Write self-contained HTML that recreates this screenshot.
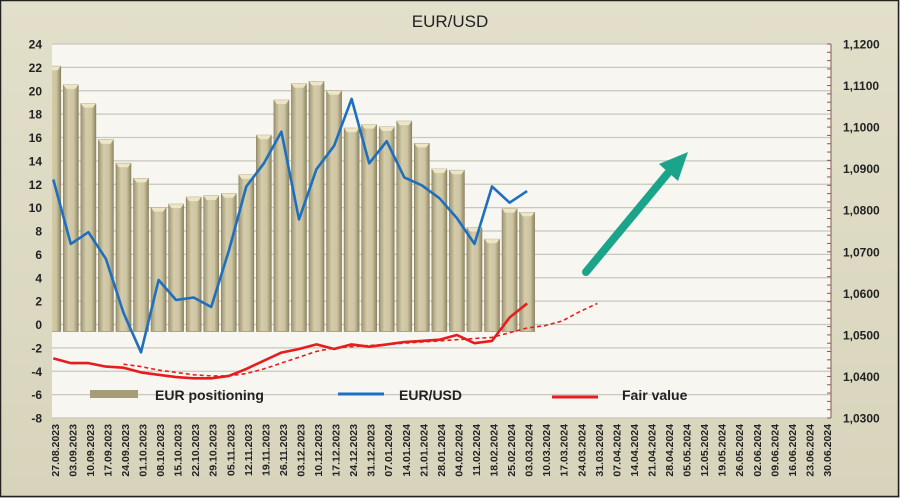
<!DOCTYPE html>
<html><head><meta charset="utf-8"><style>
html,body{margin:0;padding:0;background:#dcd9c3;}
svg{display:block;font-family:"Liberation Sans","DejaVu Sans",sans-serif;}
</style></head><body>
<svg id="chart" width="900" height="498" viewBox="0 0 900 498">
<defs>
<linearGradient id="bg" x1="0" y1="0" x2="0" y2="1"><stop offset="0" stop-color="#e2dfca"/><stop offset="1" stop-color="#d8d4bc"/></linearGradient>
<linearGradient id="barg" x1="0" y1="0" x2="1" y2="0"><stop offset="0" stop-color="#9f9672"/><stop offset="0.35" stop-color="#d4ccaa"/><stop offset="0.7" stop-color="#cdc5a1"/><stop offset="1" stop-color="#8f8763"/></linearGradient>
<clipPath id="plotclip"><rect x="52" y="40" width="779" height="380"/></clipPath>
</defs>
<rect x="0" y="0" width="900" height="498" fill="url(#bg)"/>
<rect x="0.5" y="0.5" width="898" height="496" fill="none" stroke="#222" stroke-width="1.5"/>
<text x="450" y="27" text-anchor="middle" font-size="17" fill="#222">EUR/USD</text>
<rect x="52" y="44" width="779" height="374" fill="#f7f6f1"/>
<g id="grid"></g><g id="bars" clip-path="url(#plotclip)"></g><g id="lines"></g><g id="axes"></g>
<g>
<rect x="90" y="390" width="48" height="8" fill="#a69d78"/>
<text x="155" y="400" font-size="14" font-weight="bold" fill="#222">EUR positioning</text>
<line x1="338" y1="394" x2="384" y2="394" stroke="#1f6fbf" stroke-width="3"/>
<text x="399" y="400" font-size="14" font-weight="bold" fill="#222">EUR/USD</text>
<line x1="552" y1="397" x2="598" y2="397" stroke="#e41e1e" stroke-width="3"/>
<text x="622" y="400" font-size="14" font-weight="bold" fill="#222">Fair value</text>
</g>
<g>
<line x1="586" y1="272" x2="668" y2="173" stroke="#1aa58a" stroke-width="8" stroke-linecap="round"/>
<polygon points="688,152 659,164 678,181" fill="#1aa58a"/>
</g>
</svg>
<script>
const categories=["27.08.2023","03.09.2023","10.09.2023","17.09.2023","24.09.2023","01.10.2023","08.10.2023","15.10.2023","22.10.2023","29.10.2023","05.11.2023","12.11.2023","19.11.2023","26.11.2023","03.12.2023","10.12.2023","17.12.2023","24.12.2023","31.12.2023","07.01.2024","14.01.2024","21.01.2024","28.01.2024","04.02.2024","11.02.2024","18.02.2024","25.02.2024","03.03.2024","10.03.2024","17.03.2024","24.03.2024","31.03.2024","07.04.2024","14.04.2024","21.04.2024","28.04.2024","05.05.2024","12.05.2024","19.05.2024","26.05.2024","02.06.2024","09.06.2024","16.06.2024","23.06.2024","30.06.2024"];
const positioning=[22.1,20.5,18.9,15.8,13.8,12.5,10.0,10.3,10.9,11.0,11.2,12.8,16.2,19.2,20.6,20.8,20.0,16.8,17.1,16.9,17.4,15.5,13.3,13.2,8.3,7.3,9.9,9.6];
const eurusd=[1.0874,1.0719,1.0747,1.0683,1.0553,1.0458,1.0632,1.0584,1.0590,1.0567,1.0702,1.0857,1.0913,1.0989,1.0778,1.0899,1.0955,1.1068,1.0913,1.0966,1.0879,1.0860,1.0829,1.0781,1.0719,1.0857,1.0818,1.0846];
const fairValue=[-2.9,-3.3,-3.3,-3.6,-3.7,-4.1,-4.3,-4.5,-4.6,-4.6,-4.4,-3.8,-3.1,-2.4,-2.1,-1.7,-2.1,-1.7,-1.9,-1.7,-1.5,-1.4,-1.3,-0.9,-1.6,-1.4,0.6,1.8];
const fairTrendStart=4;
const fairTrend=[-3.4,-3.6,-3.9,-4.1,-4.3,-4.4,-4.4,-4.2,-3.8,-3.3,-2.8,-2.3,-2.0,-1.9,-1.8,-1.7,-1.6,-1.5,-1.4,-1.3,-1.2,-1.1,-0.7,-0.3,-0.1,0.3,1.1,1.8];
const leftTicks=[24,22,20,18,16,14,12,10,8,6,4,2,0,-2,-4,-6,-8];
const rightTicks=["1,1200","1,1100","1,1000","1,0900","1,0800","1,0700","1,0600","1,0500","1,0400","1,0300"];
const rightVals=[1.12,1.11,1.10,1.09,1.08,1.07,1.06,1.05,1.04,1.03];

const NS="http://www.w3.org/2000/svg";
const X0=44.5,BAND=17.55,TOP=44,BOT=418;
const xS=i=>X0+BAND/2+i*BAND;
const yL=v=>TOP+(24-v)/32*(BOT-TOP);
const yR=v=>TOP+(1.12-v)/0.09*(BOT-TOP);
function mk(tag,attrs,parent){const e=document.createElementNS(NS,tag);for(const k in attrs)e.setAttribute(k,attrs[k]);document.getElementById(parent).appendChild(e);return e;}

leftTicks.forEach(t=>{
  const g=mk('line',{x1:52,x2:831,y1:yL(t),y2:yL(t),stroke:'#c9c7be','stroke-width':1.2},'grid');
  
  
  const l=mk('text',{x:42,y:yL(t)+4.5,'text-anchor':'end','font-size':12,'font-weight':'bold',fill:'#222'},'axes');
  l.textContent=t;
  
  
});
mk('line',{x1:831,x2:831,y1:TOP,y2:BOT,stroke:'#8a5a50','stroke-width':1},'axes');
rightTicks.forEach((t,i)=>{
  const y=yR(rightVals[i]);
  const l=mk('text',{x:843,y:y+4.5,'font-size':12,'font-weight':'bold',fill:'#222'},'axes');
  l.textContent=t;
  
  
  for(let k=0;k<5;k++){if(i===rightTicks.length-1&&k>0)break;const yy=y+k*(BOT-TOP)/45;
    mk('line',{x1:827,x2:831,y1:yy,y2:yy,stroke:'#8a5a50','stroke-width':1},'axes');}
});
categories.forEach((c,i)=>{
  const x=xS(i)+1.5;
  const t=mk('text',{x:0,y:0,'font-size':10.5,'font-weight':'bold',fill:'#222','text-anchor':'end',transform:`translate(${x+4},${BOT+6}) rotate(-90)`},'axes');
  t.textContent=c;
  
  
});
const base=yL(-0.6);
positioning.forEach((v,i)=>{
  const x=xS(i)-7.5,y=yL(v);
  const b=mk('rect',{x:x,y:y,width:15,height:base-y,fill:'url(#barg)',stroke:'#8a825e','stroke-width':0.6},'bars');
  
  
  mk('polygon',{points:`${x},${y} ${x+15},${y} ${x+12},${y+4} ${x+3},${y+4}`,fill:'#ece6c6'},'bars');
});
function path(arr,xf,yf){return arr.map((v,i)=>(i?'L':'M')+xf(i).toFixed(1)+','+yf(v).toFixed(1)).join(' ');}
const ft=mk('path',{d:path(fairTrend,i=>xS(i+fairTrendStart),yL),fill:'none',stroke:'#e41e1e','stroke-width':1.6,'stroke-dasharray':'4,3'},'lines');


const fv=mk('path',{d:path(fairValue,xS,yL),fill:'none',stroke:'#e41e1e','stroke-width':2.6,'stroke-linejoin':'round'},'lines');


const eu=mk('path',{d:path(eurusd,xS,yR),fill:'none',stroke:'#1f6fbf','stroke-width':2.6,'stroke-linejoin':'round'},'lines');


</script>
</body></html>
